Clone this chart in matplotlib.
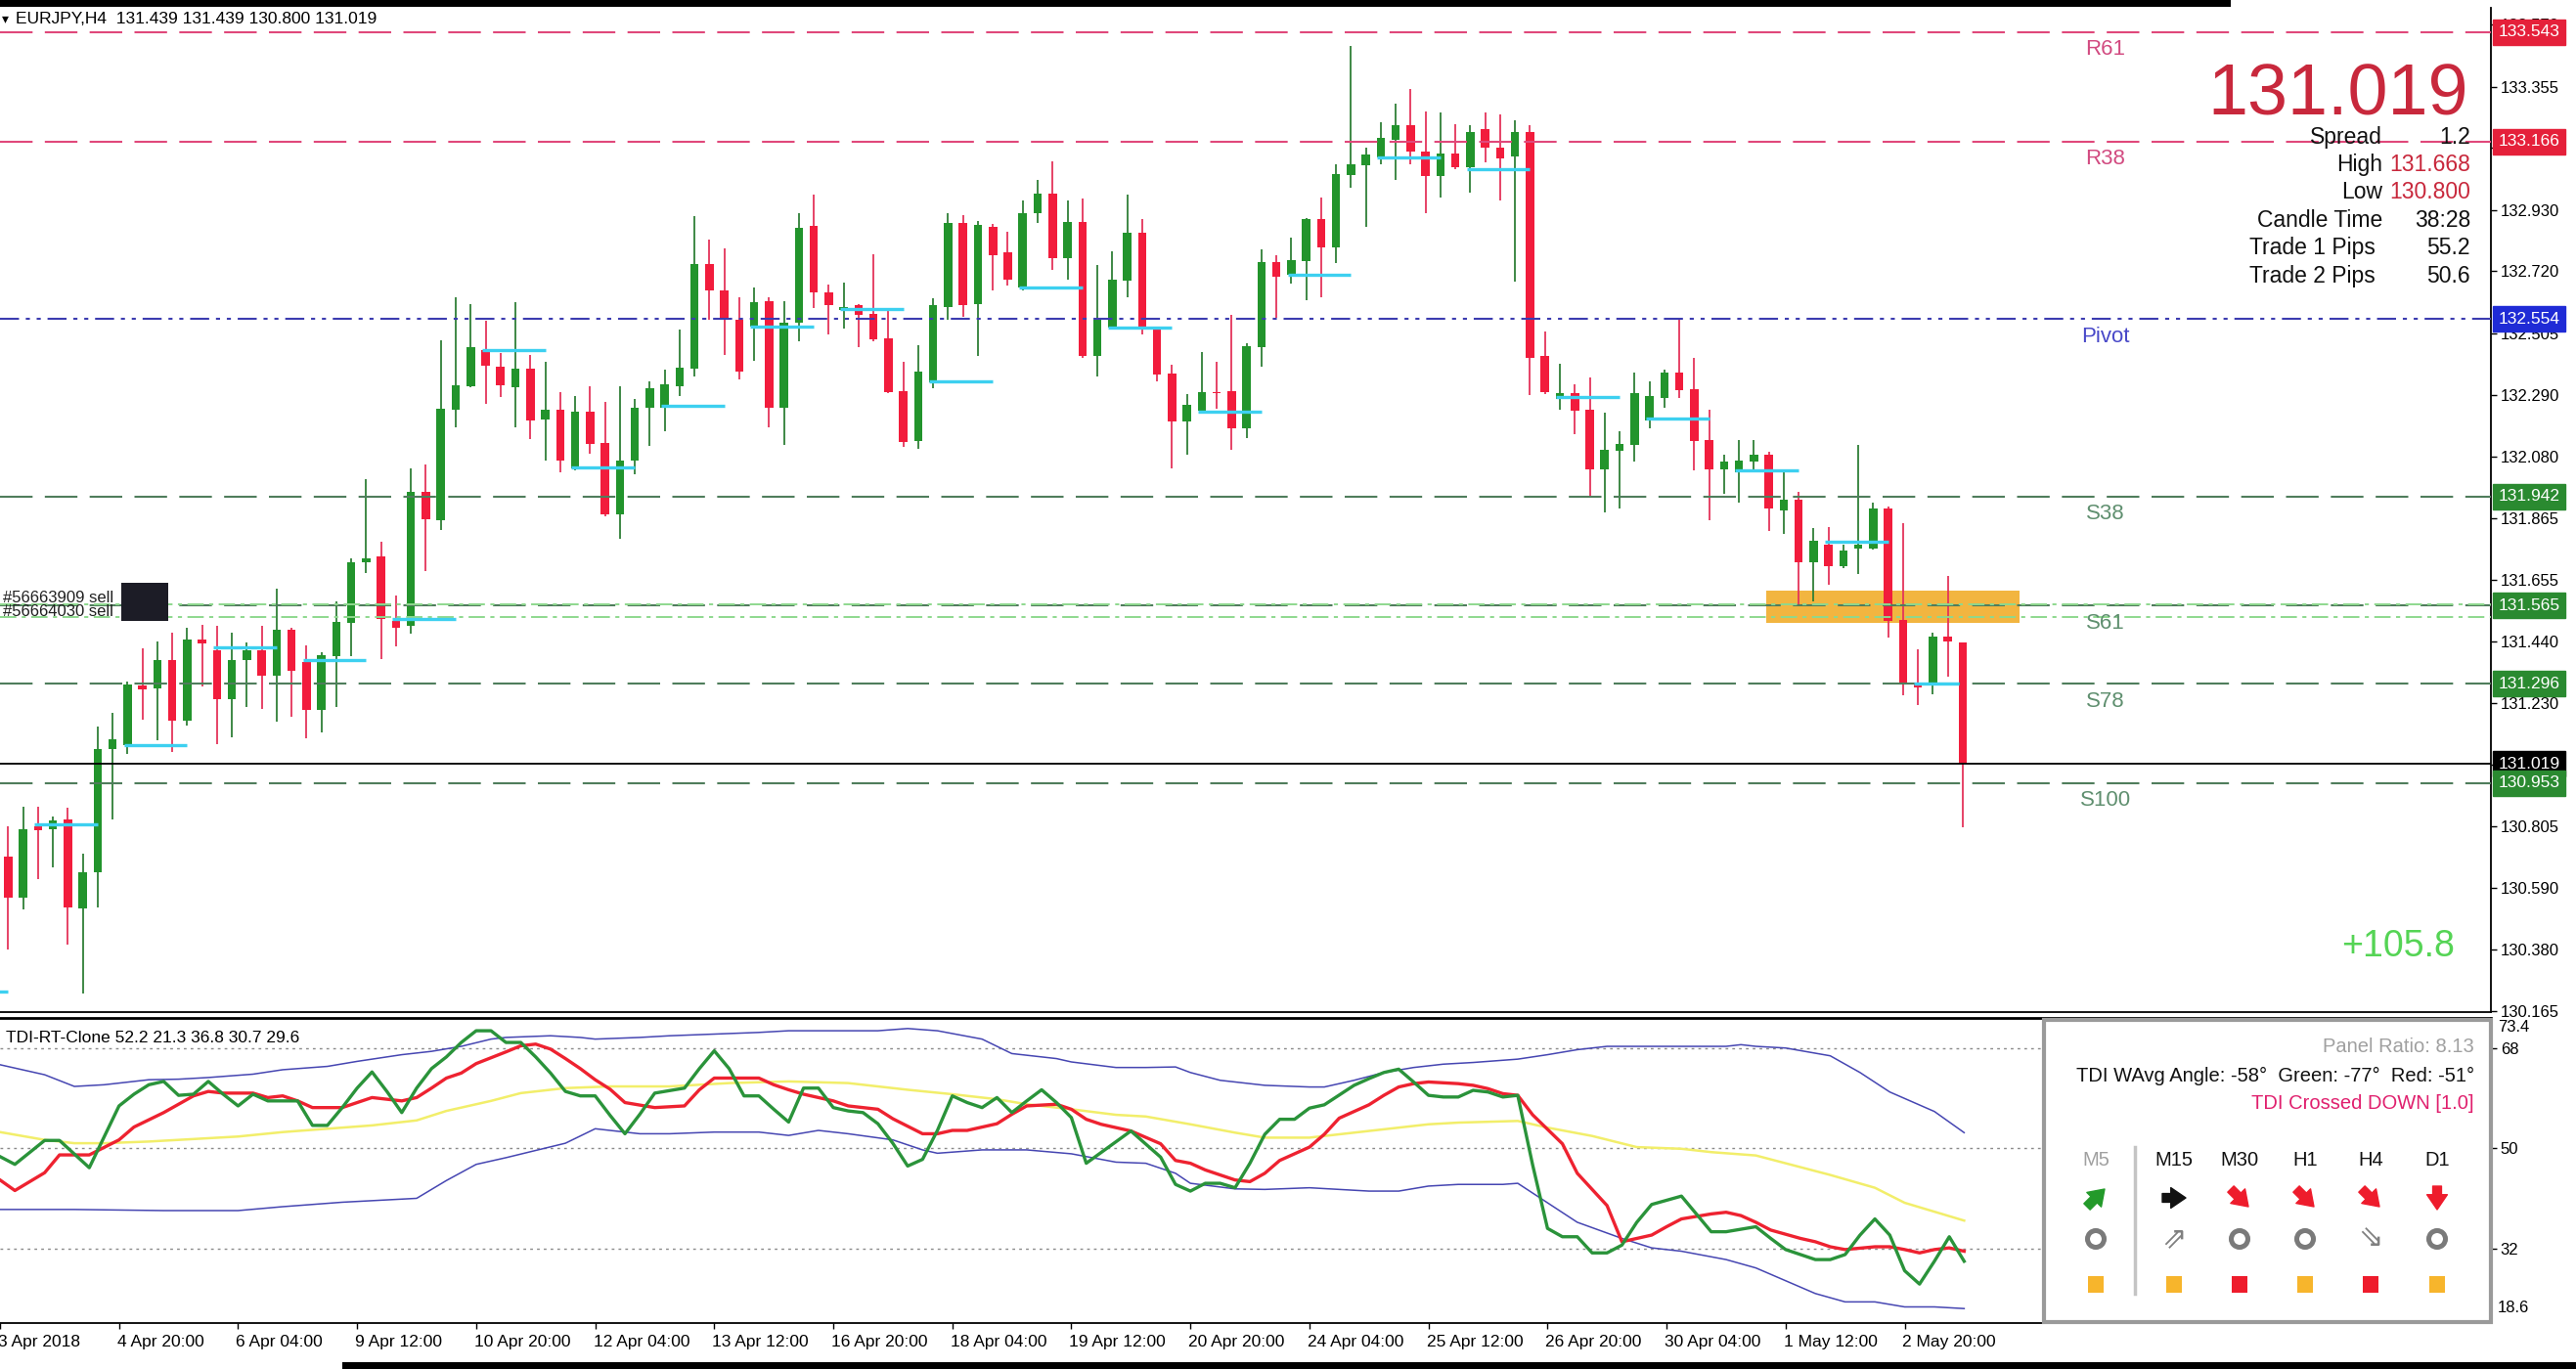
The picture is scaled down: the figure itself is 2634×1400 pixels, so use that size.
import matplotlib
matplotlib.use("Agg")
import matplotlib.pyplot as plt
from matplotlib.patches import Rectangle, Circle

plt.rcParams['font.family'] = ['Liberation Sans', 'DejaVu Sans']
plt.rcParams['lines.scale_dashes'] = False

# ------------------------------------------------------------------ data
symbol_title = "EURJPY,H4  131.439 131.439 130.800 131.019"
bars = list(range(1, 133))

opens = [130.700, 130.559, 130.804, 130.793, 130.828, 130.520, 130.644, 131.071, 131.084, 131.289,
         131.279, 131.377, 131.167, 131.449, 131.412, 131.244, 131.377, 131.412, 131.324, 131.483,
         131.369, 131.204, 131.391, 131.505, 131.716, 131.736, 131.511, 131.495, 131.957, 131.860,
         132.240, 132.322, 132.445, 132.389, 132.317, 132.383, 132.206, 132.241, 132.039, 132.234,
         132.126, 131.879, 132.064, 132.246, 132.246, 132.323, 132.382, 132.744, 132.653, 132.551,
         132.526, 132.615, 132.249, 132.542, 132.875, 132.647, 132.585, 132.600, 132.571, 132.486,
         132.306, 132.132, 132.334, 132.596, 132.884, 132.604, 132.872, 132.784, 132.662, 132.917,
         132.987, 132.762, 132.889, 132.427, 132.523, 132.685, 132.851, 132.517, 132.367, 132.201,
         132.237, 132.303, 132.305, 132.175, 132.455, 132.750, 132.707, 132.753, 132.900, 132.800,
         133.051, 133.085, 133.112, 133.172, 133.221, 133.130, 133.047, 133.123, 133.076, 133.208,
         133.143, 133.115, 133.197, 132.425, 132.279, 132.298, 132.240, 132.035, 132.100, 132.119,
         132.205, 132.282, 132.368, 132.310, 132.135, 132.036, 132.026, 132.063, 132.086, 131.894,
         131.931, 131.714, 131.776, 131.700, 131.761, 131.761, 131.899, 131.515, 131.292, 131.295,
         131.459, 131.439]
highs = [130.804, 130.873, 130.873, 130.836, 130.868, 130.708, 131.148, 131.196, 131.303, 131.417,
         131.441, 131.473, 131.489, 131.500, 131.495, 131.473, 131.439, 131.495, 131.625, 131.490,
         131.428, 131.404, 131.580, 131.728, 132.000, 131.784, 131.600, 132.040, 132.053, 132.480,
         132.629, 132.605, 132.546, 132.437, 132.611, 132.431, 132.405, 132.300, 132.287, 132.321,
         132.268, 132.321, 132.278, 132.340, 132.380, 132.517, 132.907, 132.829, 132.798, 132.628,
         132.661, 132.628, 132.615, 132.917, 132.983, 132.674, 132.679, 132.604, 132.778, 132.582,
         132.405, 132.462, 132.625, 132.917, 132.912, 132.892, 132.883, 132.855, 132.962, 133.034,
         133.098, 132.962, 132.968, 132.741, 132.787, 132.982, 132.898, 132.526, 132.396, 132.294,
         132.439, 132.407, 132.568, 132.469, 132.795, 132.772, 132.835, 132.902, 132.971, 133.087,
         133.497, 133.146, 133.232, 133.297, 133.348, 133.271, 133.265, 133.225, 133.221, 133.265,
         133.260, 133.240, 133.223, 132.510, 132.400, 132.329, 132.351, 132.232, 132.166, 132.368,
         132.337, 132.380, 132.551, 132.421, 132.240, 132.084, 132.137, 132.137, 132.097, 132.026,
         131.956, 131.833, 131.835, 131.776, 132.119, 131.919, 131.907, 131.850, 131.416, 131.471,
         131.668, 131.439]
lows = [130.380, 130.516, 130.623, 130.663, 130.396, 130.227, 130.524, 130.828, 131.055, 131.172,
        131.100, 131.060, 131.151, 131.287, 131.087, 131.111, 131.215, 131.207, 131.164, 131.180,
        131.108, 131.127, 131.215, 131.391, 131.676, 131.380, 131.423, 131.468, 131.684, 131.825,
        132.181, 132.317, 132.261, 132.285, 132.181, 132.141, 132.064, 132.024, 132.030, 132.090,
        131.874, 131.794, 132.018, 132.116, 132.166, 132.287, 132.355, 132.551, 132.428, 132.346,
        132.408, 132.181, 132.118, 132.477, 132.590, 132.502, 132.522, 132.457, 132.477, 132.298,
        132.113, 132.105, 132.314, 132.551, 132.562, 132.425, 132.651, 132.668, 132.653, 132.885,
        132.724, 132.690, 132.420, 132.356, 132.520, 132.628, 132.500, 132.337, 132.039, 132.084,
        132.235, 132.245, 132.103, 132.144, 132.390, 132.557, 132.677, 132.617, 132.628, 132.747,
        133.005, 132.872, 133.087, 133.034, 133.087, 132.917, 132.971, 133.070, 132.988, 133.093,
        132.962, 132.684, 132.292, 132.295, 132.242, 132.156, 131.940, 131.887, 131.899, 132.061,
        132.177, 132.248, 132.282, 132.030, 131.860, 131.949, 131.919, 132.033, 131.823, 131.813,
        131.566, 131.579, 131.638, 131.693, 131.675, 131.759, 131.455, 131.256, 131.221, 131.258,
        131.320, 130.800]
closes = [130.559, 130.793, 130.791, 130.825, 130.524, 130.647, 131.071, 131.105, 131.292, 131.276,
          131.377, 131.167, 131.449, 131.433, 131.244, 131.377, 131.412, 131.324, 131.483, 131.340,
          131.204, 131.393, 131.508, 131.716, 131.729, 131.519, 131.489, 131.957, 131.864, 132.245,
          132.325, 132.456, 132.392, 132.325, 132.383, 132.204, 132.241, 132.067, 132.234, 132.124,
          131.879, 132.067, 132.249, 132.314, 132.327, 132.386, 132.744, 132.651, 132.551, 132.372,
          132.613, 132.249, 132.542, 132.869, 132.645, 132.600, 132.596, 132.568, 132.482, 132.300,
          132.130, 132.371, 132.600, 132.884, 132.602, 132.878, 132.775, 132.690, 132.920, 132.987,
          132.762, 132.889, 132.427, 132.552, 132.690, 132.851, 132.526, 132.362, 132.201, 132.257,
          132.303, 132.298, 132.175, 132.460, 132.750, 132.699, 132.756, 132.900, 132.800, 133.055,
          133.087, 133.121, 133.180, 133.221, 133.132, 133.047, 133.123, 133.078, 133.200, 133.144,
          133.109, 133.197, 132.421, 132.300, 132.298, 132.236, 132.035, 132.103, 132.121, 132.298,
          132.289, 132.368, 132.308, 132.134, 132.036, 132.063, 132.066, 132.084, 131.901, 131.930,
          131.714, 131.790, 131.700, 131.755, 131.776, 131.899, 131.511, 131.299, 131.283, 131.459,
          131.443, 131.019]

# daily open markers (first bar of each day and its open level)
day_start_bars = list(range(-3, 133, 6))
day_open_levels = [130.235, 130.809, 131.084, 131.420, 131.377, 131.519, 132.445, 132.042,
                   132.253, 132.528, 132.587, 132.340, 132.664, 132.524, 132.234, 132.707,
                   133.110, 133.072, 132.285, 132.209, 132.030, 131.786, 131.295]

level_names = ["R61", "R38", "Pivot", "S38", "S61", "S78", "S100"]
level_values = [133.543, 133.166, 132.554, 131.942, 131.565, 131.296, 130.953]
current_price = 131.019
trade_entries = [131.571, 131.525]
trade_labels = ["#56663909 sell", "#56664030 sell"]
zone_bars = [118.8, 135.8]
zone_prices = [131.505, 131.617]

price_ticks = [130.165, 130.380, 130.590, 130.805, 131.015, 131.230, 131.440, 131.655,
               131.865, 132.080, 132.290, 132.505, 132.720, 132.930, 133.145, 133.355, 133.570]

date_tick_bars = list(range(0, 129, 8))
date_labels = ["3 Apr 2018", "4 Apr 20:00", "6 Apr 04:00", "9 Apr 12:00", "10 Apr 20:00",
               "12 Apr 04:00", "13 Apr 12:00", "16 Apr 20:00", "18 Apr 04:00", "19 Apr 12:00",
               "20 Apr 20:00", "24 Apr 04:00", "25 Apr 12:00", "26 Apr 20:00", "30 Apr 04:00",
               "1 May 12:00", "2 May 20:00"]

info_labels = ["Spread", "High", "Low", "Candle Time", "Trade 1 Pips", "Trade 2 Pips"]
info_values = ["1.2", "131.668", "130.800", "38:28", "55.2", "50.6"]
profit_text = "+105.8"

# TDI indicator
tdi_title = "TDI-RT-Clone 52.2 21.3 36.8 30.7 29.6"
tdi_levels = [32, 50, 68]
tdi_green_bars = [0, 1, 3, 4, 6, 8, 9, 10, 11, 12, 13, 14, 15, 16, 17, 18, 20, 21, 22, 23, 24, 25,
                  26, 27, 28, 29, 30, 31, 32, 33, 34, 35, 36, 37, 38, 39, 40, 41, 42, 43, 44, 46,
                  47, 48, 49, 50, 51, 52, 53, 54, 55, 56, 57, 58, 59, 60, 61, 62, 63, 64, 65, 66,
                  67, 68, 69, 70, 71, 72, 73, 76, 78, 79, 80, 81, 82, 83, 84, 85, 86, 87, 88, 89,
                  91, 92, 93, 94, 95, 96, 97, 98, 99, 100, 101, 102, 103, 104, 105, 106, 107, 108,
                  109, 110, 111, 113, 114, 115, 116, 118, 119, 120, 122, 123, 124, 125, 126, 127,
                  128, 129, 130, 131, 132]
tdi_green = [48.5, 47.1, 51.4, 51.4, 46.5, 57.6, 59.7, 61.4, 62.0, 59.5, 59.7, 62.0, 59.7, 57.6,
             59.7, 58.5, 58.5, 54.1, 54.1, 57.3, 60.8, 63.7, 60.2, 56.4, 60.8, 64.3, 66.4, 69.0,
             71.1, 71.1, 69.0, 69.0, 66.4, 63.5, 60.2, 59.4, 59.4, 55.9, 52.6, 56.1, 59.9, 60.8,
             64.3, 67.5, 64.3, 59.4, 59.4, 57.0, 54.7, 60.8, 60.8, 57.3, 56.7, 56.4, 54.4, 50.9,
             46.8, 48.0, 53.2, 59.4, 58.2, 57.3, 59.1, 56.4, 58.5, 60.5, 58.2, 55.5, 47.3, 53.1,
             48.4, 43.5, 42.3, 43.7, 43.7, 42.9, 47.3, 52.5, 55.2, 55.2, 57.2, 57.8, 61.3, 62.5,
             63.6, 64.2, 61.9, 59.5, 59.2, 59.2, 60.4, 60.1, 59.2, 59.5, 47.0, 35.6, 34.1, 34.1,
             31.2, 31.2, 32.6, 36.7, 39.9, 41.4, 38.2, 35.0, 35.0, 35.9, 33.8, 31.8, 30.0, 30.0,
             30.9, 34.4, 37.3, 34.4, 28.0, 25.6, 29.7, 34.1, 29.7]
tdi_red_bars = [0, 1, 3, 4, 6, 8, 9, 11, 13, 14, 15, 17, 18, 19, 20, 21, 23, 24, 25, 27, 28, 29,
                30, 31, 32, 34, 35, 36, 37, 38, 39, 40, 41, 42, 44, 46, 47, 48, 51, 52, 53, 54,
                56, 57, 58, 59, 60, 62, 63, 64, 65, 67, 68, 69, 71, 72, 73, 74, 75, 76, 78, 79,
                80, 81, 83, 84, 85, 86, 88, 89, 90, 92, 93, 94, 95, 96, 98, 99, 100, 101, 102,
                103, 105, 106, 108, 109, 111, 112, 113, 115, 116, 117, 118, 119, 121, 122, 123,
                124, 126, 127, 128, 129, 130, 131, 132]
tdi_red = [44.3, 42.4, 45.6, 48.8, 48.8, 51.5, 53.8, 56.4, 59.4, 60.2, 59.9, 59.9, 59.1, 59.4,
           58.5, 57.3, 57.3, 58.2, 59.1, 58.5, 59.1, 60.8, 62.6, 63.5, 65.2, 67.3, 68.4, 68.7,
           67.8, 66.1, 64.3, 62.3, 60.6, 58.2, 57.3, 57.6, 60.5, 62.6, 62.6, 61.4, 60.5, 59.7,
           58.5, 57.6, 57.3, 57.0, 55.3, 52.6, 52.6, 53.2, 53.2, 54.4, 56.1, 57.6, 57.9, 57.0,
           55.2, 54.3, 53.7, 53.1, 50.8, 47.8, 47.3, 46.1, 44.3, 44.0, 45.5, 47.8, 50.2, 52.5,
           55.4, 57.8, 59.5, 61.0, 61.6, 61.9, 61.6, 61.3, 60.7, 59.8, 59.5, 56.0, 50.8, 45.5,
           39.7, 33.2, 34.4, 35.9, 37.3, 38.2, 38.5, 37.9, 36.7, 35.3, 33.8, 33.2, 32.3, 31.8,
           32.3, 32.3, 31.8, 31.2, 31.8, 32.1, 31.5]
tdi_yellow_bars = [0, 3, 5, 7, 10, 12, 16, 19, 22, 25, 28, 30, 33, 35, 38, 41, 45, 49, 53, 57,
                   61, 64, 67, 69, 72, 75, 77, 80, 83, 85, 88, 90, 93, 96, 98, 102, 104, 107,
                   110, 113, 115, 118, 120, 123, 126, 128, 132]
tdi_yellow = [52.9, 51.5, 50.9, 50.9, 51.2, 51.5, 52.1, 52.9, 53.5, 54.1, 55.0, 56.7, 58.5, 59.9,
              60.8, 61.1, 61.1, 61.7, 62.0, 61.7, 60.5, 59.7, 58.8, 57.9, 57.0, 56.0, 55.7, 54.3,
              52.8, 51.9, 51.9, 52.5, 53.4, 54.3, 54.6, 54.9, 53.7, 52.2, 50.2, 49.9, 49.3, 48.7,
              47.3, 45.2, 42.9, 40.2, 37.0]
tdi_upper_bars = [0, 3, 5, 7, 10, 12, 14, 17, 19, 22, 24, 27, 29, 31, 33, 34, 37, 39, 40, 43, 45,
                  48, 51, 53, 56, 59, 61, 63, 66, 68, 71, 72, 75, 77, 79, 80, 82, 84, 85, 88, 89,
                  91, 93, 95, 97, 99, 102, 104, 106, 108, 112, 116, 117, 118, 120, 123, 125, 127,
                  130, 132]
tdi_upper = [65.0, 63.2, 61.1, 61.4, 62.3, 62.4, 62.7, 63.3, 64.1, 64.7, 65.6, 66.8, 67.4, 68.3,
             69.6, 69.9, 70.2, 69.9, 69.6, 69.9, 70.2, 70.5, 70.8, 71.1, 71.1, 71.1, 71.5, 71.1,
             69.6, 67.0, 66.1, 65.5, 64.5, 64.5, 64.6, 63.6, 62.2, 61.6, 61.3, 61.0, 61.0, 62.2,
             63.6, 64.5, 65.1, 65.4, 66.0, 66.8, 67.7, 68.3, 68.3, 68.3, 68.6, 68.3, 68.0, 66.6,
             63.6, 60.1, 56.6, 52.8]
tdi_lower_bars = [0, 5, 11, 16, 19, 23, 28, 30, 32, 34, 38, 40, 43, 45, 48, 51, 53, 55, 57, 60,
                  62, 63, 66, 69, 72, 75, 77, 79, 80, 83, 85, 88, 92, 94, 96, 98, 101, 102, 104,
                  106, 109, 111, 113, 116, 118, 120, 122, 124, 126, 128, 130, 132]
tdi_lower = [39.0, 39.0, 38.8, 38.8, 39.5, 40.3, 41.0, 44.2, 47.1, 48.3, 50.9, 53.5, 52.6, 52.6,
             52.9, 52.9, 52.3, 53.2, 52.6, 51.5, 49.7, 49.1, 49.7, 49.7, 49.0, 47.5, 47.3, 45.5,
             43.7, 42.7, 42.6, 42.9, 42.3, 42.3, 43.2, 43.5, 43.5, 43.7, 40.2, 36.7, 33.8, 32.1,
             31.5, 30.0, 28.5, 26.2, 23.9, 22.4, 22.4, 21.5, 21.5, 21.2]

# TDI info panel
panel_ratio = "Panel Ratio: 8.13"
panel_angles = "TDI WAvg Angle: -58°  Green: -77°  Red: -51°"
panel_signal = "TDI Crossed DOWN [1.0]"
timeframes = ["M5", "M15", "M30", "H1", "H4", "D1"]
tf_arrows = ["NE", "E", "SE", "SE", "SE", "S"]
tf_marks = ["ring", "up", "ring", "ring", "down", "ring"]
tf_squares = ["amber", "amber", "red", "amber", "red", "amber"]

# ------------------------------------------------------------------ style
W, H = 2634, 1400
MAIN_TOP, MAIN_BOT = 8, 1035
TDI_TOP, TDI_BOT = 1041, 1353
RIGHT = 2547
XLIM = (0.456, 167.4)

GREEN_BODY, GREEN_WICK = "#22942c", "#2f7f37"
RED_BODY, RED_WICK = "#f21c3c", "#e4345a"
R_COL, PIV_COL, S_COL = "#e0487a", "#3c3cb0", "#4f7d5c"
R_TXT, PIV_TXT, S_TXT = "#d24a80", "#4848c8", "#5f8f6f"
BOX_R, BOX_PIV, BOX_S = "#e5203a", "#1f2bd6", "#2a8a30"
CYAN = "#3dd0f0"
CRIMSON = "#c8283c"


def fx(px):
    return px / W


def fy(py):
    return 1 - py / H


fig = plt.figure(figsize=(W / 100, H / 100), dpi=100)
fig.patch.set_facecolor("white")

ax = fig.add_axes([0, fy(MAIN_BOT), fx(RIGHT), (MAIN_BOT - MAIN_TOP) / H])
ax2 = fig.add_axes([0, fy(TDI_BOT), fx(RIGHT), (TDI_BOT - TDI_TOP) / H])

# ------------------------------------------------------------------ main chart
ax.set_xlim(*XLIM)
ax.set_ylim(130.163, 133.627)

# background zone
ax.add_patch(Rectangle((zone_bars[0], zone_prices[0]), zone_bars[1] - zone_bars[0],
                       zone_prices[1] - zone_prices[0], fc="#f2b540", ec="none", zorder=1))

# candles
body_w = 0.56
for k, o, h, l, c in zip(bars, opens, highs, lows, closes):
    up = c >= o
    ax.vlines(k, l, h, color=GREEN_WICK if up else RED_WICK, lw=1.3, zorder=2)
    ax.add_patch(Rectangle((k - body_w / 2, min(o, c)), body_w, max(abs(c - o), 0.004),
                           fc=GREEN_BODY if up else RED_BODY, ec="none", zorder=2.1))

# level lines
for name, val in zip(level_names, level_values):
    if name.startswith("R"):
        col, txt, dash = R_COL, R_TXT, (24, 9)
    elif name == "Pivot":
        col, txt, dash = PIV_COL, PIV_TXT, (14, 5, 3, 5, 3, 5)
    else:
        col, txt, dash = S_COL, S_TXT, (24, 9)
    ax.axhline(val, color=col, lw=1.5, dashes=dash, zorder=3)
    ax.annotate(name, xy=(2153 / RIGHT, val), xycoords=ax.get_yaxis_transform(),
                xytext=(0, -13), textcoords="offset points", ha="center", va="center",
                fontsize=16, color=txt, zorder=5)

# trade entry lines and labels
for lbl, e in zip(trade_labels, trade_entries):
    ax.axhline(e, color="#8ed88e", lw=1.4, dashes=(12, 4, 3, 4), zorder=3)
    ax.annotate(lbl, xy=(3 / RIGHT, e), xycoords=ax.get_yaxis_transform(),
                xytext=(0, 1), textcoords="offset points", ha="left", va="baseline",
                fontsize=12, color="#202020", zorder=5)
ax.add_patch(Rectangle((124 / RIGHT, (MAIN_BOT - 634.5) / (MAIN_BOT - MAIN_TOP)),
                       48 / RIGHT, 38.5 / (MAIN_BOT - MAIN_TOP), transform=ax.transAxes,
                       fc="#1c1c26", ec="none", zorder=5))

# current price line
ax.axhline(current_price, color="black", lw=1.3, zorder=3.2)

# daily open markers
last_bar = bars[-1]
for ds, lvl in zip(day_start_bars, day_open_levels):
    ax.hlines(lvl, ds - 0.25, min(ds + 4, last_bar - 0.25), color=CYAN, lw=2.4, zorder=4)

# axes styling
for s in ["left", "top"]:
    ax.spines[s].set_visible(False)
for s in ["right", "bottom"]:
    ax.spines[s].set_color("black")
    ax.spines[s].set_linewidth(1.3)
ax.yaxis.tick_right()
ax.set_yticks(price_ticks)
ax.set_yticklabels([f"{v:.3f}" for v in price_ticks], fontsize=12)
ax.tick_params(axis="y", direction="out", length=4, width=1, pad=3, colors="black")
ax.tick_params(axis="x", bottom=False, labelbottom=False)

# price boxes on the axis
box_vals = level_values + [current_price]
box_cols = []
for name in level_names:
    box_cols.append(BOX_R if name.startswith("R") else (BOX_PIV if name == "Pivot" else BOX_S))
box_cols.append("black")
order = [0, 1, 2, 3, 4, 5, 7, 6]
for i in order:
    v, col = box_vals[i], box_cols[i]
    ax.annotate(f"{v:.3f}", xy=(1, v), xycoords=ax.get_yaxis_transform(),
                xytext=(5.5, 0), textcoords="offset points", ha="left", va="center",
                fontsize=12.5, color="white", annotation_clip=False, zorder=10,
                bbox=dict(boxstyle="square,pad=0.32", fc=col, ec=col))

# ------------------------------------------------------------------ TDI panel
ax2.set_xlim(*XLIM)
ax2.set_ylim(18.6, 73.4)
for lv in tdi_levels:
    ax2.axhline(lv, color="#8a8a8a", lw=1.0, ls=(0, (2, 3)), zorder=1)
ax2.plot(tdi_yellow_bars, tdi_yellow, color="#f2ee6a", lw=1.8, zorder=2)
ax2.plot(tdi_upper_bars, tdi_upper, color="#4646b2", lw=1.1, zorder=2)
ax2.plot(tdi_lower_bars, tdi_lower, color="#4646b2", lw=1.1, zorder=2)
ax2.plot(tdi_red_bars, tdi_red, color="#ee2230", lw=2.4, zorder=3)
ax2.plot(tdi_green_bars, tdi_green, color="#2a933a", lw=2.4, zorder=4)

ax2.spines["left"].set_visible(False)
ax2.spines["top"].set_linewidth(2.0)
ax2.spines["right"].set_linewidth(1.3)
ax2.spines["bottom"].set_linewidth(1.3)
ax2.yaxis.tick_right()
ax2.set_yticks(tdi_levels)
ax2.set_yticklabels([str(v) for v in tdi_levels], fontsize=12)
ax2.tick_params(axis="y", direction="out", length=4, width=1, pad=3)
ax2.annotate(f"{73.4}", xy=(1, 73.4), xycoords=ax2.get_yaxis_transform(), xytext=(5, -7),
             textcoords="offset points", ha="left", va="center", fontsize=12,
             annotation_clip=False)
ax2.annotate(f"{18.6}", xy=(1, 18.6), xycoords=ax2.get_yaxis_transform(), xytext=(5, 11),
             textcoords="offset points", ha="left", va="center", fontsize=12,
             annotation_clip=False)
ax2.set_xticks(date_tick_bars)
ax2.set_xticklabels([])
ax2.tick_params(axis="x", direction="out", length=4, width=1)
for k, lab in zip(date_tick_bars, date_labels):
    ax2.annotate(lab, xy=(k, 0), xycoords=ax2.get_xaxis_transform(), xytext=(-1.5, -14),
                 textcoords="offset points", ha="left", va="center", fontsize=12.5,
                 annotation_clip=False)

# ------------------------------------------------------------------ figure texts
fig.text(fx(2), fy(19), "▾", fontsize=10, va="center", ha="left", family="DejaVu Sans")
fig.text(fx(16), fy(19), symbol_title, fontsize=12.5, va="center", ha="left")
fig.text(fx(6), fy(1061), tdi_title, fontsize=12.5, va="center", ha="left")

fig.text(fx(2524), fy(117), f"{current_price:.3f}", fontsize=53, color=CRIMSON,
         ha="right", va="baseline")
info_base = [147, 175, 203, 232, 260, 289]
info_right = [2436, 2436, 2436, 2436, 2429, 2429]
for lab, val, b, xr in zip(info_labels, info_values, info_base, info_right):
    fig.text(fx(xr), fy(b), lab, fontsize=16.5, ha="right", va="baseline", color="#111111")
    vcol = CRIMSON if lab in ("High", "Low") else "#111111"
    fig.text(fx(2526), fy(b), val, fontsize=16.5, ha="right", va="baseline", color=vcol)
fig.text(fx(2510), fy(978), profit_text, fontsize=27, color="#55d455", ha="right",
         va="baseline")

# screenshot frame strips
fig.add_artist(Rectangle((0, fy(7)), fx(2281), 7 / H, transform=fig.transFigure,
                         fc="black", ec="none"))
fig.add_artist(Rectangle((fx(350), 0), 1 - fx(350), 7 / H, transform=fig.transFigure,
                         fc="black", ec="none"))

# ------------------------------------------------------------------ info panel
PX0, PY0, PX1, PY1 = 2090, 1043, 2547, 1352
axp = fig.add_axes([fx(PX0), fy(PY1), fx(PX1) - fx(PX0), (PY1 - PY0) / H])
axp.set_xlim(0, PX1 - PX0)
axp.set_ylim(PY1 - PY0, 0)
axp.axis("off")
axp.add_patch(Rectangle((0, 0), PX1 - PX0, PY1 - PY0, fc="white", ec="#9a9a9a", lw=3,
                        clip_on=False))
axp.text(440, 28, panel_ratio, ha="right", va="center", fontsize=14.5, color="#a0a0a0")
axp.text(440, 57, panel_angles, ha="right", va="center", fontsize=14.5, color="#111111")
axp.text(440, 85, panel_signal, ha="right", va="center", fontsize=14.5, color="#e0206e")
axp.plot([93, 93], [130, 280], color="#c4c4c4", lw=2.5)

col_x = [53, 133, 200, 267, 334, 402]
arrow_vec = {"NE": (9, -9), "E": (12, 0), "SE": (9, 9), "S": (0, 12)}
arrow_col = {"NE": "#239a2a", "E": "#111111", "SE": "#ee1c2c", "S": "#ee1c2c"}
sq_col = {"amber": "#f7b52c", "red": "#ee1c2c"}
for i, (tf, ad, mk, sq) in enumerate(zip(timeframes, tf_arrows, tf_marks, tf_squares)):
    x = col_x[i]
    axp.text(x, 143, tf, ha="center", va="center", fontsize=14.5,
             color="#a0a0a0" if i == 0 else "#111111")
    dx, dy = arrow_vec[ad]
    axp.annotate("", xy=(x + dx, 182 + dy), xytext=(x - dx, 182 - dy),
                 arrowprops=dict(arrowstyle="simple,head_length=0.55,head_width=0.75,tail_width=0.32",
                                 color=arrow_col[ad], shrinkA=0, shrinkB=0, mutation_scale=20))
    if mk == "ring":
        axp.add_patch(Circle((x, 224), 8.5, fc="none", ec="#7a7a7a", lw=3.6))
    else:
        axp.text(x, 224, "⇗" if mk == "up" else "⇘", ha="center", va="center", fontsize=22,
                 color="#808080", family="DejaVu Sans")
    axp.add_patch(Rectangle((x - 8, 270 - 8.5), 16, 17, fc=sq_col[sq], ec="none"))

fig.savefig("out.png", dpi=100, facecolor="white")
